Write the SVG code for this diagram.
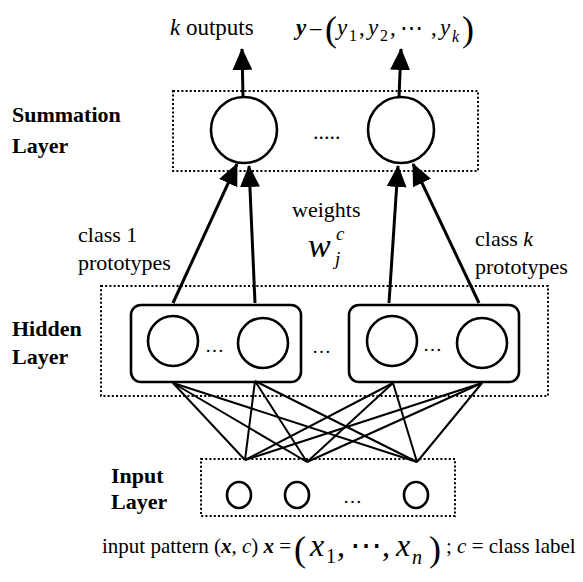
<svg xmlns="http://www.w3.org/2000/svg" width="583" height="582" viewBox="0 0 583 582" font-family="Liberation Serif, DejaVu Serif, serif">
<style>
text{font-family:'Liberation Serif','DejaVu Serif',serif;fill:#000}
.lbl{font-size:22px}
.top{font-size:23px}
.b{font-weight:bold;font-size:22px}
.i{font-style:italic}
.bi{font-style:italic;font-weight:bold}
.dot{fill:none;stroke:#000;stroke-width:2;stroke-dasharray:2 2.2}
.c{fill:#fff;stroke:#000;stroke-width:2.6}
.rr{fill:none;stroke:#000;stroke-width:2.6}
.arr{stroke:#000;stroke-width:3;fill:none;marker-end:url(#ah)}
.ln{stroke:#000;stroke-width:2}
</style>
<defs>
<marker id="ah" markerUnits="userSpaceOnUse" markerWidth="22" markerHeight="20" refX="21" refY="10" orient="auto" viewBox="0 0 22 20">
<path d="M0,0 L22,10 L0,20 z" fill="#000"/>
</marker>
</defs>
<rect width="583" height="582" fill="#fff"/>

<g id="connectors">
<line class="arr" x1="243" y1="97" x2="242" y2="49"/>
<line class="arr" x1="399" y1="97" x2="401" y2="49"/>
<line class="arr" x1="173" y1="303" x2="237" y2="164"/>
<line class="arr" x1="255" y1="303" x2="249" y2="166"/>
<line class="arr" x1="389" y1="303" x2="398" y2="166"/>
<line class="arr" x1="479" y1="303" x2="413" y2="164"/>
<g>
<line class="ln" x1="173" y1="383" x2="245" y2="460"/>
<line class="ln" x1="173" y1="383" x2="307" y2="462"/>
<line class="ln" x1="173" y1="383" x2="417" y2="462"/>
<line class="ln" x1="255" y1="381" x2="245" y2="460"/>
<line class="ln" x1="255" y1="381" x2="307" y2="462"/>
<line class="ln" x1="255" y1="381" x2="417" y2="462"/>
<line class="ln" x1="393" y1="383" x2="245" y2="460"/>
<line class="ln" x1="393" y1="383" x2="307" y2="462"/>
<line class="ln" x1="393" y1="383" x2="417" y2="462"/>
<line class="ln" x1="482" y1="383" x2="245" y2="460"/>
<line class="ln" x1="482" y1="383" x2="307" y2="462"/>
<line class="ln" x1="482" y1="383" x2="417" y2="462"/>
</g>
</g>

<g id="outputs-label">
<text class="top" y="35"><tspan x="170" class="i">k</tspan><tspan> outputs</tspan></text>
<text class="top" y="35"><tspan x="296" class="bi">y</tspan><tspan x="310">–</tspan></text>
<text x="325" y="41" font-size="36">(</text>
<text class="top" y="35"><tspan x="337" class="i">y</tspan><tspan x="349" dy="6" font-size="16">1</tspan><tspan x="359" dy="-6">,</tspan><tspan x="368" class="i">y</tspan><tspan x="380" dy="6" font-size="16">2</tspan><tspan x="390" dy="-6">,</tspan><tspan x="400">⋯</tspan><tspan x="431">,</tspan><tspan x="440" class="i">y</tspan><tspan x="452" dy="7" font-size="16" class="i">k</tspan></text>
<text x="462" y="41" font-size="36">)</text>
</g>

<g id="summation-layer">
<rect class="dot" x="173" y="91" width="305" height="80"/>
<text class="b" x="12" y="122">Summation</text>
<text class="b" x="12" y="153">Layer</text>
<circle class="c" cx="244" cy="130" r="33"/>
<circle class="c" cx="401" cy="130" r="33"/>
<text class="lbl" x="313" y="139">.....</text>
</g>

<g id="weights-label">
<text class="lbl" x="292" y="217">weights</text>
<text x="308" y="257" font-size="34" class="i">w</text>
<text x="336" y="240" font-size="19" class="i">c</text>
<text x="335" y="265" font-size="19" class="i">j</text>
</g>

<g id="class-labels">
<text class="lbl" x="78" y="242">class 1</text>
<text class="lbl" x="78" y="270">prototypes</text>
<text class="lbl" x="475" y="246">class <tspan class="i">k</tspan></text>
<text class="lbl" x="475" y="274">prototypes</text>
</g>

<g id="hidden-layer">
<rect class="dot" x="101" y="286" width="447" height="110"/>
<text class="b" x="12" y="336">Hidden</text>
<text class="b" x="12" y="364">Layer</text>
<rect class="rr" x="131" y="305" width="170" height="77" rx="10"/>
<rect class="rr" x="349" y="305" width="170" height="77" rx="10"/>
<circle class="c" cx="173" cy="341" r="25"/>
<circle class="c" cx="263" cy="343" r="25"/>
<circle class="c" cx="392" cy="341" r="25"/>
<circle class="c" cx="482" cy="343" r="25"/>
<text x="205" y="352" font-size="19">…</text>
<text x="312" y="353" font-size="19">…</text>
<text x="423" y="351" font-size="19">…</text>
</g>

<g id="input-layer">
<rect class="dot" x="201" y="459" width="254" height="57"/>
<text class="b" x="111" y="483">Input</text>
<text class="b" x="111" y="509">Layer</text>
<ellipse class="c" cx="239" cy="495" rx="12" ry="13" stroke-width="2.2"/>
<ellipse class="c" cx="297" cy="495" rx="12" ry="13" stroke-width="2.2"/>
<ellipse class="c" cx="416" cy="495" rx="12" ry="13" stroke-width="2.2"/>
<text x="343" y="503" font-size="19">…</text>
</g>

<g id="input-pattern-label">
<text x="102" y="553" font-size="21">input pattern (<tspan class="bi">x</tspan>, <tspan class="i">c</tspan>) <tspan class="bi">x</tspan> =</text>
<text x="294" y="561" font-size="36">(</text>
<text y="556" font-size="32"><tspan x="310" class="i">x</tspan><tspan x="326" dy="7" font-size="20">1</tspan><tspan x="337" dy="-7">,</tspan><tspan x="350">⋯</tspan><tspan x="382">,</tspan><tspan x="396" class="i">x</tspan><tspan x="412" dy="8" font-size="20" class="i">n</tspan></text>
<text x="429" y="561" font-size="36">)</text>
<text x="446" y="553" font-size="21">; <tspan class="i">c</tspan> = class label</text>
</g>
</svg>
